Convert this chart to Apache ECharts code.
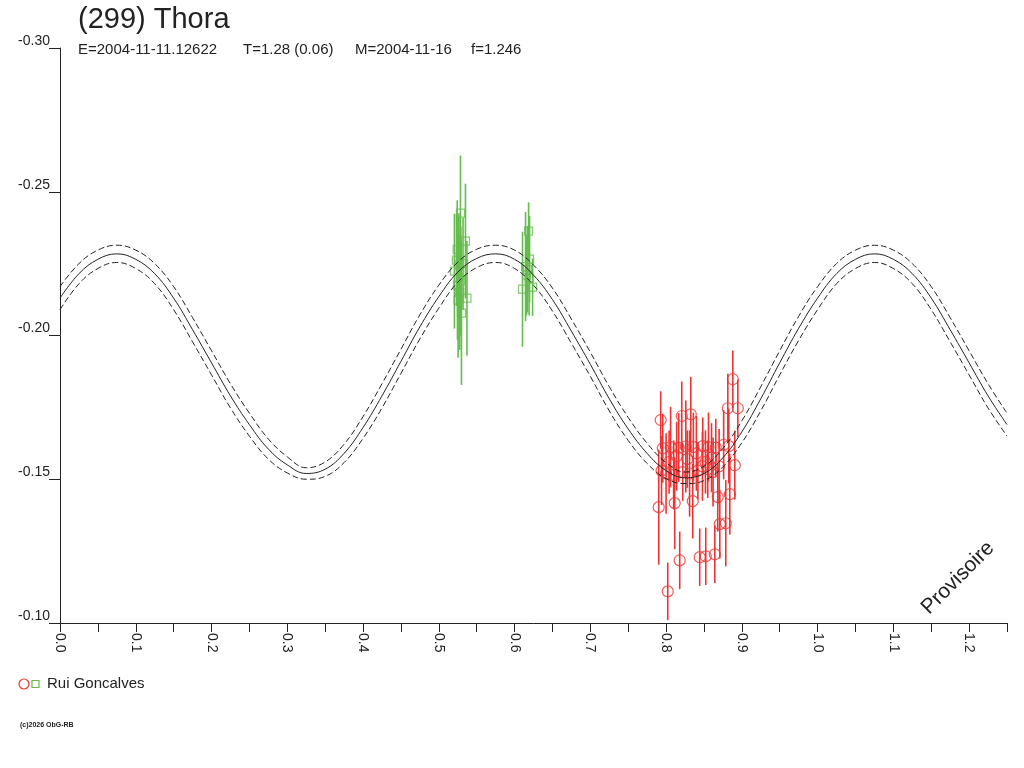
<!DOCTYPE html>
<html>
<head>
<meta charset="utf-8">
<script src="https://cdn.jsdelivr.net/npm/echarts@6/dist/echarts.min.js"></script>
<style>
  html, body { margin: 0; padding: 0; background: #fff; }
  #lc { width: 1024px; height: 768px; }
</style>
</head>
<body>
<div id="lc"></div>
<script>
// Fitted lightcurve, read every 0.025 in phase from 0.0 to 1.25
let curveSolid = [
    -0.2130, -0.2215, -0.2265, -0.2284, -0.2265, -0.2215, -0.2130, -0.2020, -0.1905, -0.1790,
    -0.1690, -0.1605, -0.1550, -0.1520, -0.1535, -0.1590, -0.1680, -0.1790, -0.1910, -0.2030,
    -0.2135, -0.2220, -0.2268, -0.2284, -0.2265, -0.2210, -0.2125, -0.2015, -0.1900, -0.1780,
    -0.1675, -0.1590, -0.1530, -0.1505, -0.1520, -0.1575, -0.1665, -0.1780, -0.1905, -0.2025,
    -0.2130, -0.2215, -0.2265, -0.2284, -0.2265, -0.2215, -0.2130, -0.2020, -0.1905, -0.1790,
    -0.1690
];
let curveUpper = [
    -0.2170, -0.2250, -0.2297, -0.2314, -0.2297, -0.2250, -0.2170, -0.2062, -0.1947, -0.1832,
    -0.1730, -0.1640, -0.1578, -0.1540, -0.1560, -0.1622, -0.1718, -0.1832, -0.1952, -0.2072,
    -0.2175, -0.2255, -0.2300, -0.2314, -0.2297, -0.2245, -0.2165, -0.2057, -0.1942, -0.1822,
    -0.1715, -0.1625, -0.1558, -0.1525, -0.1545, -0.1607, -0.1703, -0.1822, -0.1947, -0.2067,
    -0.2170, -0.2250, -0.2297, -0.2314, -0.2297, -0.2250, -0.2170, -0.2062, -0.1947, -0.1832,
    -0.1730
];
let curveLower = [
    -0.2090, -0.2180, -0.2233, -0.2254, -0.2233, -0.2180, -0.2090, -0.1978, -0.1863, -0.1748,
    -0.1650, -0.1570, -0.1522, -0.1500, -0.1510, -0.1558, -0.1642, -0.1748, -0.1868, -0.1988,
    -0.2095, -0.2185, -0.2236, -0.2254, -0.2233, -0.2175, -0.2085, -0.1973, -0.1858, -0.1738,
    -0.1635, -0.1555, -0.1502, -0.1485, -0.1495, -0.1543, -0.1627, -0.1738, -0.1863, -0.1983,
    -0.2090, -0.2180, -0.2233, -0.2254, -0.2233, -0.2180, -0.2090, -0.1978, -0.1863, -0.1748,
    -0.1650
];
let curvePhase = curveSolid.map(function(v, i) { return +(i * 0.025).toFixed(3); });

// Rui Goncalves, first night (circles)
let redPhase = [0.7903, 0.7929, 0.7956, 0.8022, 0.8114, 0.8180, 0.8207, 0.8326, 0.8352, 0.8444,
    0.8524, 0.8643, 0.8682, 0.8709, 0.8788, 0.8841, 0.8881, 0.8815, 0.8947, 0.8907,
    0.8060, 0.8167, 0.8260, 0.8360, 0.8484, 0.8560, 0.8656, 0.8760, 0.8828,
    0.7940, 0.8000, 0.8100, 0.8220, 0.8310, 0.8420, 0.8480, 0.8550, 0.8620, 0.8700,
    0.8040, 0.8140, 0.8280, 0.8400, 0.8520, 0.8600];
let redMag = [-0.1403, -0.1706, -0.1608, -0.1110, -0.1417, -0.1218, -0.1720, -0.1726, -0.1424, -0.1229,
    -0.1232, -0.1239, -0.1438, -0.1344, -0.1347, -0.1448, -0.1848, -0.1747, -0.1747, -0.1549,
    -0.1612, -0.1610, -0.1614, -0.1612, -0.1615, -0.1612, -0.1610, -0.1620, -0.1615,
    -0.1530, -0.1520, -0.1515, -0.1525, -0.1520, -0.1530, -0.1545, -0.1535, -0.1525, -0.1545,
    -0.1560, -0.1580, -0.1570, -0.1590, -0.1560, -0.1575];
let redErr = [0.020, 0.010, 0.012, 0.010, 0.016, 0.010, 0.012, 0.013, 0.013, 0.010,
    0.010, 0.010, 0.012, 0.012, 0.015, 0.014, 0.010, 0.012, 0.010, 0.012,
    0.014, 0.012, 0.016, 0.012, 0.010, 0.012, 0.010, 0.012, 0.013,
    0.012, 0.014, 0.012, 0.010, 0.015, 0.010, 0.012, 0.010, 0.012, 0.013,
    0.011, 0.012, 0.010, 0.013, 0.011, 0.012];

// Rui Goncalves, second night (squares)
let greenPhase = [0.5286, 0.5352, 0.5206, 0.5372, 0.5255, 0.5299, 0.5233, 0.5266, 0.5246,
    0.5260, 0.5276, 0.5243, 0.5290, 0.5320,
    0.6185, 0.6198, 0.6105, 0.6238, 0.6158, 0.6145, 0.6170, 0.6192];
let greenMag = [-0.2426, -0.2328, -0.2224, -0.2130, -0.2123, -0.2078, -0.2262, -0.2245, -0.2175,
    -0.2200, -0.2150, -0.2300, -0.2190, -0.2250,
    -0.2363, -0.2266, -0.2161, -0.2168, -0.2210, -0.2240, -0.2230, -0.2200];
let greenErr = [0.020, 0.020, 0.020, 0.020, 0.020, 0.025, 0.016, 0.018, 0.019,
    0.021, 0.020, 0.017, 0.019, 0.016,
    0.010, 0.015, 0.020, 0.010, 0.014, 0.019, 0.015, 0.013];

let xTicks = [0.0, 1.25, 0.05];
let yTicks = [-0.30, -0.10, 0.05];

let red = '#ee3333';
let green = '#66bb4f';
let ink = '#222';
let fontName = 'Liberation Sans';

function pairs(xs, ys, es) {
    return xs.map(function(x, i) { return es ? [x, ys[i], es[i]] : [x, ys[i]]; });
}

function errorBars(color) {
    return function(params, api) {
        let x = api.value(0), y = api.value(1), e = api.value(2);
        let a = api.coord([x, y - e]);
        let b = api.coord([x, y + e]);
        return {
            type: 'line',
            shape: { x1: a[0], y1: a[1], x2: b[0], y2: b[1] },
            style: { stroke: color, lineWidth: 1.6 }
        };
    };
}

function headText(text, left, top, size) {
    return {
        text: text, left: left, top: top, padding: 0,
        textStyle: { fontSize: size, fontWeight: 'normal', color: ink, fontFamily: fontName }
    };
}

let chart = echarts.init(document.getElementById('lc'));
let option = {
    animation: false,
    backgroundColor: '#fff',
    textStyle: { fontFamily: fontName },
    title: [
        headText('(299) Thora', 78, 5, 29),
        headText('E=2004-11-11.12622', 78, 42, 15),
        headText('T=1.28 (0.06)', 243, 42, 15),
        headText('M=2004-11-16', 355, 42, 15),
        headText('f=1.246', 471, 42, 15)
    ],
    grid: { left: 60, right: 17, top: 48, bottom: 145, containLabel: false },
    xAxis: {
        type: 'value',
        min: xTicks[0],
        max: xTicks[1],
        interval: xTicks[2],
        axisLine: { onZero: false, lineStyle: { color: ink, width: 1 } },
        axisTick: { length: 9, lineStyle: { color: ink } },
        splitLine: { show: false },
        axisLabel: {
            rotate: -90,
            margin: 10,
            fontSize: 14,
            color: ink,
            padding: [0, 0, 12, 0],
            showMaxLabel: true,
            formatter: function(v) {
                let k = Math.round(v * 100);
                return k % 10 === 0 ? (k / 100).toFixed(1) : '';
            }
        }
    },
    yAxis: {
        type: 'value',
        inverse: true,
        min: yTicks[0],
        max: yTicks[1],
        interval: yTicks[2],
        axisLine: { show: true, onZero: false, lineStyle: { color: ink, width: 1 } },
        axisTick: { show: true, length: 11, lineStyle: { color: ink } },
        splitLine: { show: false },
        axisLabel: {
            margin: 10,
            fontSize: 14,
            color: ink,
            verticalAlign: 'bottom',
            formatter: function(v) { return v.toFixed(2); }
        }
    },
    series: [
        {
            name: 'fit', type: 'line', data: pairs(curvePhase, curveSolid),
            smooth: 0.4, showSymbol: false, silent: true,
            lineStyle: { color: ink, width: 1 }
        },
        {
            name: 'fit+', type: 'line', data: pairs(curvePhase, curveUpper),
            smooth: 0.4, showSymbol: false, silent: true,
            lineStyle: { color: ink, width: 1, type: [6, 3] }
        },
        {
            name: 'fit-', type: 'line', data: pairs(curvePhase, curveLower),
            smooth: 0.4, showSymbol: false, silent: true,
            lineStyle: { color: ink, width: 1, type: [6, 3] }
        },
        {
            type: 'custom', renderItem: errorBars(green), clip: true,
            data: pairs(greenPhase, greenMag, greenErr), encode: { x: 0, y: 1 }
        },
        {
            type: 'custom', renderItem: errorBars(red), clip: true,
            data: pairs(redPhase, redMag, redErr), encode: { x: 0, y: 1 }
        },
        {
            type: 'scatter', symbol: 'rect', symbolSize: 8,
            data: pairs(greenPhase, greenMag),
            itemStyle: { color: 'rgba(0,0,0,0)', borderColor: green, borderWidth: 1.2 }
        },
        {
            type: 'scatter', symbol: 'circle', symbolSize: 11,
            data: pairs(redPhase, redMag),
            itemStyle: { color: 'rgba(0,0,0,0)', borderColor: red, borderWidth: 1.2 }
        }
    ],
    graphic: [
        {
            type: 'text', x: 958, y: 578, rotation: Math.PI / 4,
            style: { text: 'Provisoire', font: '21px "Liberation Sans"', fill: ink, align: 'center', verticalAlign: 'middle' }
        },
        {
            type: 'circle', shape: { cx: 24, cy: 684, r: 5 },
            style: { fill: 'none', stroke: red, lineWidth: 1.2 }
        },
        {
            type: 'rect', shape: { x: 32, y: 680.5, width: 7, height: 7 },
            style: { fill: 'none', stroke: green, lineWidth: 1.2 }
        },
        {
            type: 'text', x: 47, y: 684,
            style: { text: 'Rui Goncalves', font: '15px "Liberation Sans"', fill: ink, verticalAlign: 'middle' }
        },
        {
            type: 'text', x: 20, y: 725,
            style: { text: '(c)2026 ObG-RB', font: 'bold 7px "Liberation Sans"', fill: ink, verticalAlign: 'middle' }
        }
    ]
};
chart.setOption(option);

window.addEventListener('resize', function() {
    chart.resize();
});
</script>
</body>
</html>
